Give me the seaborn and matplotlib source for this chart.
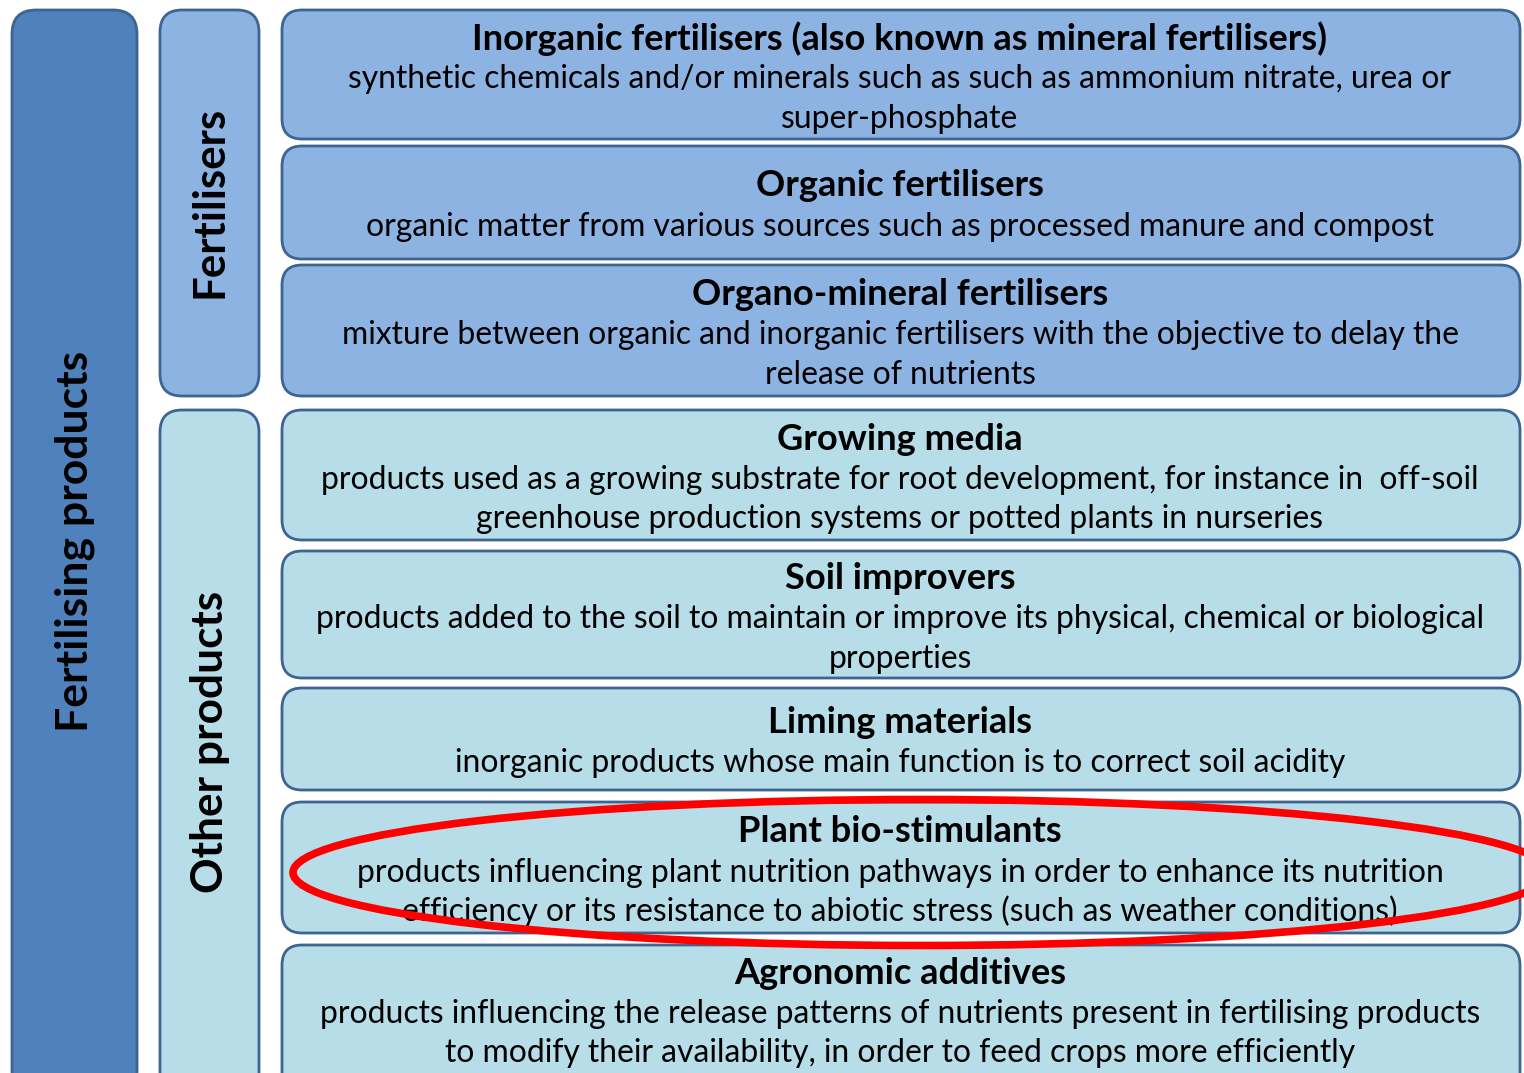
import matplotlib
matplotlib.use("Agg")
import matplotlib.pyplot as plt
import seaborn as sns
from matplotlib.patches import FancyBboxPatch, Ellipse

sns.set_theme(style="white")
plt.rcParams['font.family'] = ['Lato', 'DejaVu Sans']

# ---- content ----
group_outer = "Fertilising products"
group_labels = ["Fertilisers", "Other products"]
titles = [
    "Inorganic fertilisers (also known as mineral fertilisers)",
    "Organic fertilisers",
    "Organo-mineral fertilisers",
    "Growing media",
    "Soil improvers",
    "Liming materials",
    "Plant bio-stimulants",
    "Agronomic additives",
]
descriptions = [
    ["synthetic chemicals and/or minerals such as such as ammonium nitrate, urea or",
     "super-phosphate"],
    ["organic matter from various sources such as processed manure and compost"],
    ["mixture between organic and inorganic fertilisers with the objective to delay the",
     "release of nutrients"],
    ["products used as a growing substrate for root development, for instance in  off-soil",
     "greenhouse production systems or potted plants in nurseries"],
    ["products added to the soil to maintain or improve its physical, chemical or biological",
     "properties"],
    ["inorganic products whose main function is to correct soil acidity"],
    ["products influencing plant nutrition pathways in order to enhance its nutrition",
     "efficiency or its resistance to abiotic stress (such as weather conditions)"],
    ["products influencing the release patterns of nutrients present in fertilising products",
     "to modify their availability, in order to feed crops more efficiently"],
]
item_group = [0, 0, 0, 1, 1, 1, 1, 1]
highlighted = "Plant bio-stimulants"

# ---- layout (pixels) ----
W, H = 1524, 1073
box_rows = [(10, 139), (146, 259), (265, 396), (410, 540),
            (551, 678), (688, 790), (802, 933), (945, 1095)]
group_rows = [(10, 396), (410, 1095)]
outer_col = (12, 137)
group_col = (160, 259)
item_col = (282, 1520)

c_dark = "#4F81BD"
c_fert = "#8DB3E2"
c_other = "#B7DDE8"
c_edge = "#3E6591"
group_colors = [c_fert, c_other]

fig = plt.figure(figsize=(W / 100, H / 100), dpi=100)
ax = fig.add_axes([0, 0, 1, 1])
ax.set_xlim(0, W)
ax.set_ylim(H, 0)
ax.axis("off")


def rbox(x0, x1, y0, y1, color, r=22):
    p = FancyBboxPatch((x0 + r, y0 + r), (x1 - x0) - 2 * r, (y1 - y0) - 2 * r,
                       boxstyle=f"round,pad={r},rounding_size={r}",
                       facecolor=color, edgecolor=c_edge, linewidth=2.0,
                       mutation_aspect=1)
    ax.add_patch(p)


fig.canvas.draw()
renderer = fig.canvas.get_renderer()


def fit_text(x, y, s, target_w, weight="normal", rotation=0, base=20):
    t = ax.text(x, y, s, ha="center", va="center", fontsize=base,
                fontweight=weight, rotation=rotation, color="black")
    bb = t.get_window_extent(renderer=renderer)
    w = bb.height if rotation else bb.width
    t.set_fontsize(base * target_w / w)
    return t


# outer box
rbox(outer_col[0], outer_col[1], 10, 1095, c_dark, r=24)
fit_text((outer_col[0] + outer_col[1]) / 2, 541, group_outer, 382,
         weight="bold", rotation=90)

# group boxes
group_text_w = [193, 302]
group_text_y = [202, 742]
for i, (g, (y0, y1)) in enumerate(zip(group_labels, group_rows)):
    rbox(group_col[0], group_col[1], y0, y1, group_colors[i], r=22)
    fit_text((group_col[0] + group_col[1]) / 2, group_text_y[i], g,
             group_text_w[i], weight="bold", rotation=90)

# item boxes
xc = 900
ref_title = ax.text(0, 0, titles[0], fontsize=20, fontweight="bold")
tw = ref_title.get_window_extent(renderer=renderer).width
ref_title.remove()
title_fs = 20 * 855 / tw
ref_desc = ax.text(0, 0, descriptions[0][0], fontsize=20)
dw = ref_desc.get_window_extent(renderer=renderer).width
ref_desc.remove()
desc_fs = 20 * 1106 / dw

for i, (t, d, g) in enumerate(zip(titles, descriptions, item_group)):
    y0, y1 = box_rows[i]
    rbox(item_col[0], item_col[1], y0, y1, group_colors[g], r=20)
    n = len(d)
    block = 41 + 39 * (n - 1)
    if i == len(titles) - 1:
        ty = 973
    else:
        ty = (y0 + y1) / 2 + 4 - block / 2
    ax.text(xc, ty, t, ha="center", va="center", fontsize=title_fs,
            fontweight="bold", color="black")
    for k, line in enumerate(d):
        ax.text(xc, ty + 41 + 39 * k, line, ha="center", va="center",
                fontsize=desc_fs, color="black")

# highlight ellipse
hi = titles.index(highlighted)
hy0, hy1 = box_rows[hi]
ax.add_patch(Ellipse((921, (hy0 + hy1) / 2 + 5), 1256, 146, fill=False,
                     edgecolor="#FF0000", linewidth=5.5, zorder=10))

fig.savefig("out.png", dpi=100)
